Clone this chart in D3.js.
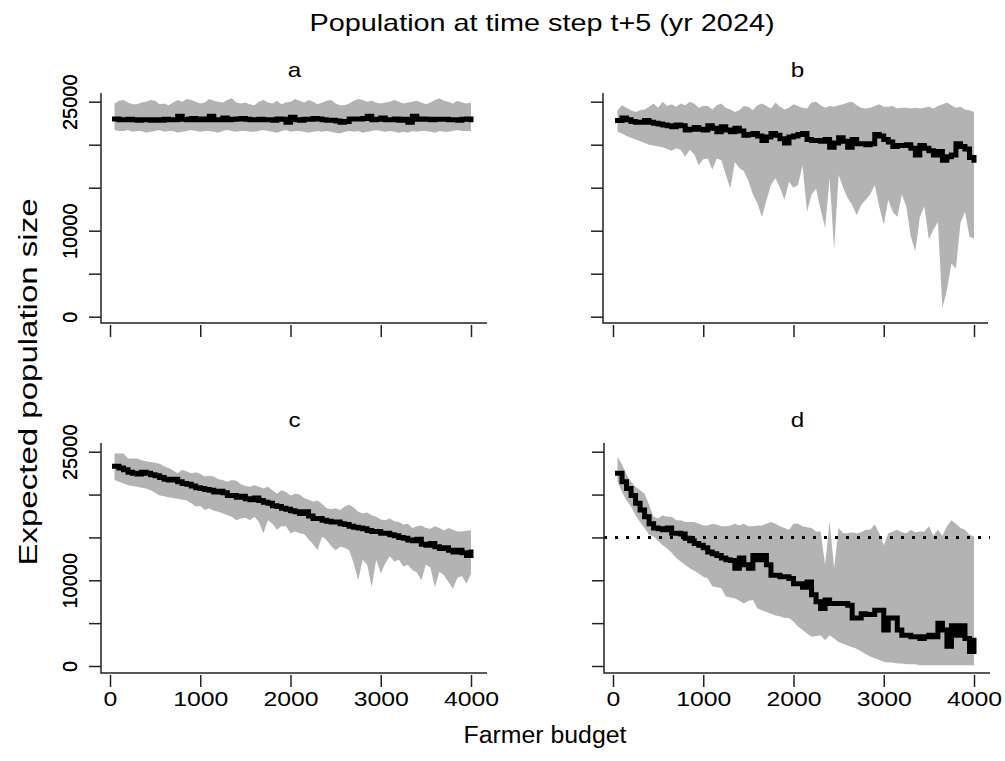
<!DOCTYPE html>
<html>
<head>
<meta charset="utf-8">
<script src="https://cdn.jsdelivr.net/npm/d3@7"></script>
<style>
  body { margin: 0; background: #fff; }
  text { font-family: "Liberation Sans", Arial, sans-serif; fill: #000; }
</style>
</head>
<body>
<script>
// farmer budget grid, 50 .. 4000
var budget = d3.range(50, 4001, 50);

var yTicks = [0, 5000, 10000, 15000, 20000, 25000];
var yLabels = [0, 10000, 25000];
var xTicks = [0, 1000, 2000, 3000, 4000];
var panelNames = ["a", "b", "c", "d"];
var threshold = 15000;

// panel a
var aMean = [23000,22900,22900,22950,22900,22850,22900,22900,22850,22900,
  22850,22950,22900,22900,23300,22950,22900,23050,22900,23000,
  22900,23300,22900,22900,23100,22900,22950,23000,23050,22950,
  22900,22900,22950,22900,22900,22850,23000,22950,22600,23200,
  22900,22850,22950,22950,23050,23000,22900,22850,22850,22750,
  22600,22700,23000,23000,23000,23050,23300,22900,22950,23100,
  22900,22900,23000,22850,22950,22600,23300,22950,23000,22950,
  22900,22950,22950,22950,22900,22900,22850,22950,23000,22900];
var aHi = [24800,25100,25200,24900,24700,24700,24900,25000,25200,25100,
  24700,24800,24600,24900,25200,25000,25300,25200,25000,24800,
  24900,25300,25100,25000,24900,25200,25400,24900,24800,24900,
  24700,24600,25000,25200,24900,24800,25100,24700,24900,25000,
  25300,25100,24900,25200,25000,24700,24900,25100,25200,24800,
  24600,24600,24800,25100,25300,25200,25000,25100,24900,24800,
  24900,25000,25200,25000,24800,24900,25000,25100,24900,24700,
  24900,25200,25400,25100,25000,24800,25100,24900,24800,24900];
var aLo = [21700,21600,21600,21700,21500,21600,21600,21400,21500,21600,
  21700,21500,21600,21600,21400,21500,21600,21700,21600,21500,
  21600,21600,21500,21400,21600,21700,21600,21500,21600,21600,
  21500,21500,21600,21700,21600,21500,21400,21600,21700,21500,
  21600,21600,21500,21400,21500,21600,21500,21600,21500,21400,
  21300,21500,21600,21500,21600,21400,21500,21600,21700,21600,
  21500,21600,21500,21400,21500,21400,21600,21500,21600,21600,
  21500,21400,21600,21500,21500,21600,21700,21600,21600,21600];

// panel b
var bMean = [22800,23100,22900,22700,22600,22600,22800,22600,22500,22400,
  22300,22200,22100,22300,22200,21700,21800,22000,21800,21700,
  22200,21900,21500,22100,21700,21500,21900,21600,21100,21200,
  21300,21000,20500,20900,21300,21100,20700,20200,20900,21000,
  21200,21300,20600,20500,20500,20400,20600,19700,20200,20800,
  20400,19700,20600,20100,20100,20000,20100,21200,21000,20600,
  20300,19800,19900,19900,20000,19600,18800,19900,19600,19300,
  18800,19200,18200,18600,18800,20100,19800,19500,18500,18200];
var bHi = [24000,24600,24300,24000,23800,24000,24100,24400,24800,24300,
  25000,24500,24700,24400,24800,24600,25000,24800,24300,24500,
  24500,24100,24600,24800,24300,24100,23800,24000,24500,24400,
  24000,24600,24800,24500,24200,24900,24400,24100,24300,24700,
  24500,24300,24200,24900,25000,24600,24300,24500,24400,24600,
  24700,24900,25000,24600,24300,24200,24300,24500,24700,24400,
  24400,24500,24200,24300,24300,24200,24300,24200,24300,24400,
  24200,24500,24700,24900,24600,24300,24400,24100,24000,23800];
var bLo = [21500,21300,21000,20800,20600,20400,20200,20000,19900,19800,
  19700,19500,19300,19600,19400,18600,19400,18900,17600,18300,
  18400,17100,18400,18200,16500,14900,18000,17300,16900,15800,
  14200,13200,11600,13500,15300,16100,15000,13600,15700,15000,
  15300,17600,12200,14200,14900,12500,10300,16100,7800,16500,
  15000,13800,13000,11800,13000,13600,14200,15300,12800,10700,
  13600,12200,11600,14200,12800,9300,7600,11600,12800,9000,
  10100,11000,1000,3100,6200,5600,10900,12200,9300,9100];

// panel c
var cMean = [23300,23100,22900,22600,22500,22400,22600,22500,22300,22200,
  22000,21800,21700,21800,21500,21300,21200,21000,20800,20700,
  20600,20500,20300,20400,20200,19900,19900,19700,19800,19500,
  19400,19600,19300,19100,19000,18700,18600,18400,18300,18100,
  18000,17800,18000,17500,17200,17200,17000,16900,16800,16800,
  16600,16500,16300,16200,16100,16000,15800,15700,15700,15500,
  15500,15300,15200,15000,14900,14700,14600,14800,14200,14100,
  14300,13900,13700,13800,13500,13300,13500,13200,12900,13300];
var cHi = [24800,24800,24800,24200,24200,24200,24000,23900,23800,23700,
  23600,23300,23100,22800,22500,22900,22700,22500,22600,22400,
  22100,22200,22100,21800,21700,21500,21700,21600,21200,21000,
  20900,21100,20900,20700,20900,20500,20100,20500,20300,19900,
  20100,20000,19600,19400,19200,19300,18900,18400,18300,18400,
  18200,18600,18800,18500,18000,17800,17900,17600,17400,17100,
  17000,17200,16900,16800,16500,16600,16100,16300,16400,16100,
  16000,16300,16100,15800,16100,15900,15700,15700,15800,15800];
var cLo = [21700,21500,21300,21100,21000,20900,20800,20700,20500,20200,
  19900,19800,19700,19600,19500,19400,19300,19000,18600,18700,
  18200,18400,18100,18000,17800,17600,17400,17000,17200,17300,
  17000,17400,16800,15500,17000,16600,15900,16300,16300,15500,
  15700,15500,15400,14800,14200,13500,15100,14700,14000,13500,
  13900,13800,13500,12000,10000,12400,11800,9200,12400,10800,
  12000,12800,12200,12400,11600,11800,11200,10900,10000,11800,
  11500,9200,11000,10600,9800,9000,10300,10500,9600,10800];

// panel d
var dMean = [22500,21500,20700,19900,19000,18200,17400,16600,16100,16000,
  15900,16100,15500,15500,15400,14900,14600,14300,14100,13800,
  13300,13100,12900,12600,12400,12300,11400,12600,11800,11400,
  12900,12400,12900,11800,10600,10600,10400,10400,10200,9600,
  9600,9200,9800,8300,7500,6700,7700,7300,7300,7300,
  7300,7100,5600,5600,6100,6000,6000,6500,6500,4200,
  5600,5600,4200,3600,3600,3400,3400,3200,3400,3600,
  3400,5000,4200,2300,4700,3600,4700,3200,1700,3000];
var dHi = [24400,23500,22300,21500,20900,20500,20100,18800,17400,17200,
  17600,17400,17400,17000,17000,16800,16800,16800,16600,16400,
  16400,16600,16500,16300,16300,16400,16600,16400,16600,16300,
  16300,16400,16400,16600,16800,16600,16300,16100,15900,16600,
  16600,16300,16200,16100,15700,15700,11800,16900,11400,16100,
  15500,15500,15600,15500,15600,15900,15900,16500,15500,14100,
  15500,15700,15900,15600,15500,15900,15600,15700,15700,16300,
  15200,15900,15200,16300,17000,16600,16100,15900,15300,15100];
var dLo = [21500,20300,19300,18600,17600,16800,16100,15300,15100,14600,
  14100,13700,13200,12600,12200,11800,11400,11100,10800,10400,
  10200,9300,9200,9100,8100,8000,7900,7600,7300,7600,
  7700,6700,6500,6300,6100,5900,5800,5600,5600,5200,
  4600,4200,3800,3400,3500,3600,3000,3600,3200,2800,
  2600,2400,2200,2000,1700,1400,1100,900,700,500,
  400,400,300,300,200,200,200,100,100,100,
  100,100,100,100,100,100,100,100,100,100];

var means = [aMean, bMean, cMean, dMean];
var highs = [aHi, bHi, cHi, dHi];
var lows = [aLo, bLo, cLo, dLo];

// layout of the four panels (pixels)
var panels = [
  {left: 101, right: 487, top: 93,  bottom: 323, x0: 110, x1: 471, y0: 316.7, y1: 101.7, xlab: false},
  {left: 603, right: 988, top: 93,  bottom: 323, x0: 613, x1: 974, y0: 316.7, y1: 101.7, xlab: false},
  {left: 101, right: 487, top: 443, bottom: 673, x0: 110, x1: 471, y0: 666,   y1: 451.7, xlab: true},
  {left: 604, right: 990, top: 443, bottom: 673, x0: 613, x1: 974, y0: 666,   y1: 451.7, xlab: true}
];

// the text in the picture runs wider than plain Arial
function widen(sel, factor) {
  sel.each(function() {
    var len = this.getComputedTextLength();
    if (len > 0) {
      d3.select(this).attr("textLength", len * factor).attr("lengthAdjust", "spacingAndGlyphs");
    }
  });
}

var svg = d3.select("body").append("svg").attr("width", 1005).attr("height", 761);

panels.forEach(function(p, k) {
  var x = d3.scaleLinear().domain([0, 4000]).range([p.x0, p.x1]);
  var y = d3.scaleLinear().domain([0, 25000]).range([p.y0, p.y1]);

  var rows = budget.map(function(b, i) {
    return {b: b, m: means[k][i], hi: highs[k][i], lo: lows[k][i]};
  });

  var g = svg.append("g");

  var area = d3.area()
    .x(function(d) { return x(d.b); })
    .y0(function(d) { return y(d.lo); })
    .y1(function(d) { return y(d.hi); });

  g.append("path")
    .datum(rows)
    .attr("d", area)
    .attr("fill", "#b3b3b3");

  var line = d3.line()
    .curve(d3.curveStepAfter)
    .x(function(d) { return x(d.b); })
    .y(function(d) { return y(d.m); });

  g.append("path")
    .datum(rows)
    .attr("d", line)
    .attr("fill", "none")
    .attr("stroke", "#000")
    .attr("stroke-width", 5)
    .attr("stroke-linejoin", "miter")
    .attr("stroke-linecap", "square");

  if (k == 3) {
    g.append("line")
      .attr("x1", p.left).attr("x2", p.right)
      .attr("y1", y(threshold)).attr("y2", y(threshold))
      .attr("stroke", "#000")
      .attr("stroke-width", 3)
      .attr("stroke-dasharray", "3,8");
  }

  // L shaped box
  g.append("path")
    .attr("d", "M" + p.left + "," + p.top + "V" + p.bottom + "H" + p.right)
    .attr("fill", "none")
    .attr("stroke", "#222")
    .attr("stroke-width", 1.5);

  var yAxis = g.append("g")
    .attr("transform", "translate(" + p.left + ",0)")
    .call(d3.axisLeft(y).tickValues(yTicks).tickSize(12).tickSizeOuter(0)
      .tickFormat(function(d) { return yLabels.indexOf(d) >= 0 ? d : ""; }));
  yAxis.select(".domain").remove();
  yAxis.selectAll(".tick line").attr("stroke", "#222").attr("stroke-width", 1.5);
  yAxis.selectAll(".tick text")
    .attr("transform", "rotate(-90)")
    .attr("x", 0)
    .attr("y", -(p.left - 70))
    .attr("dy", "0.35em")
    .attr("text-anchor", "middle")
    .style("font-size", "20px")
    .style("font-family", "'Liberation Sans', Arial, sans-serif");

  var xAxis = g.append("g")
    .attr("transform", "translate(0," + (p.bottom + 2) + ")")
    .call(d3.axisBottom(x).tickValues(xTicks).tickSize(12).tickSizeOuter(0)
      .tickFormat(function(d) { return p.xlab ? d : ""; }));
  xAxis.select(".domain").remove();
  xAxis.selectAll(".tick line").attr("stroke", "#222").attr("stroke-width", 1.5);
  xAxis.selectAll(".tick text")
    .attr("y", 16)
    .attr("dy", "0.71em")
    .style("font-size", "21px")
    .style("font-family", "'Liberation Sans', Arial, sans-serif")
    .call(widen, 1.18);

  svg.append("text")
    .attr("x", (p.x0 + p.x1) / 2 + 4)
    .attr("y", p.top - 16)
    .attr("text-anchor", "middle")
    .style("font-size", "21px")
    .text(panelNames[k])
    .call(widen, 1.15);
});

svg.append("text")
  .attr("x", 542)
  .attr("y", 31)
  .attr("text-anchor", "middle")
  .style("font-size", "24px")
  .text("Population at time step t+5 (yr 2024)")
  .call(widen, 1.2);

svg.append("text")
  .attr("x", 545)
  .attr("y", 743)
  .attr("text-anchor", "middle")
  .style("font-size", "23px")
  .text("Farmer budget")
  .call(widen, 1.08);

svg.append("text")
  .attr("transform", "translate(37,382) rotate(-90)")
  .attr("text-anchor", "middle")
  .style("font-size", "26px")
  .text("Expected population size")
  .call(widen, 1.27);
</script>
</body>
</html>
